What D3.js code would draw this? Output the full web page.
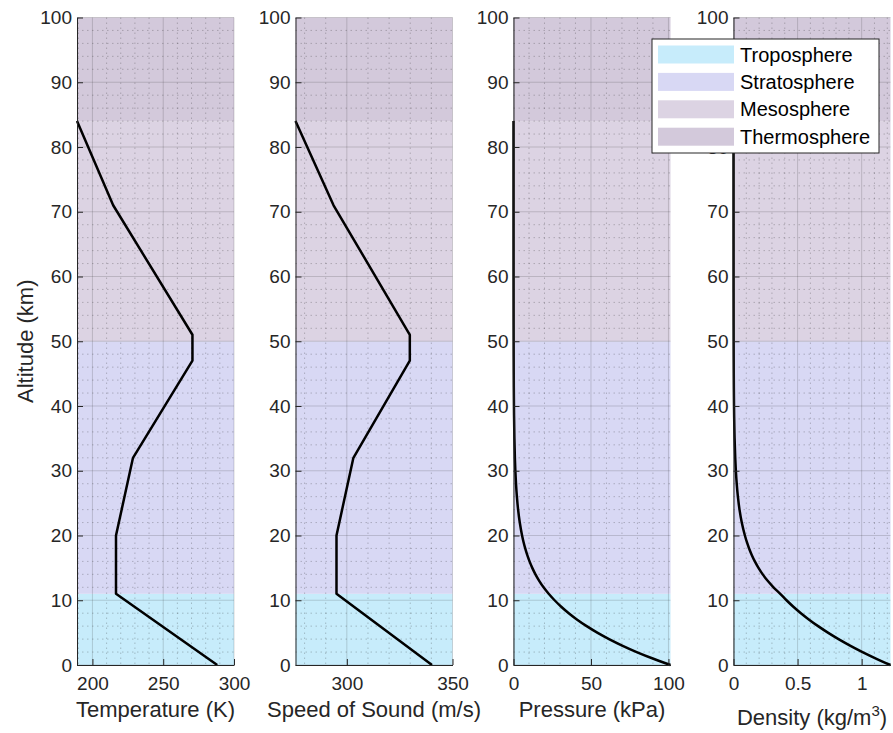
<!DOCTYPE html>
<head>
    <meta charset="utf-8">
    <title>Standard atmosphere profiles</title>
    <style>
        body { margin: 0; background: #fff; }
        svg { display: block; font-family: "Liberation Sans", Arial, sans-serif; }
        .tick text { fill: #262626; font-size: 19px; }
        .tick line, .domain { stroke: #262626; }
        .label { fill: #262626; font-size: 22px; }
        .legend text { fill: #000; font-size: 20px; }
    </style>
</head>
<body>

<svg width="893" height="733"></svg>

<script src="https://cdn.jsdelivr.net/npm/d3@7/dist/d3.min.js"></script>

<script>

    //****************************data************************************//

    //temperature and speed of sound break points (km)
    var kinkAlt = [0, 11, 20, 32, 47, 51, 71, 84];
    var temperature = [288.15, 216.65, 216.65, 228.65, 270.65, 270.65, 214.65, 189.1]; //K
    var soundSpeed = [340.3, 295.1, 295.1, 303.1, 329.8, 329.8, 293.7, 275.7]; //m/s

    //pressure and density (km)
    var curveAlt = [0, 1, 2, 3, 4, 5, 6, 7, 8, 9, 10, 11, 12, 13, 14, 15, 16, 17, 18, 19, 20,
                    22, 24, 26, 28, 30, 32, 35, 40, 45, 50, 55, 60, 65, 70, 75, 80, 84];
    var pressure = [101.325, 89.876, 79.501, 70.121, 61.66, 54.048, 47.217, 41.105, 35.651, 30.8, 26.5,
                    22.7, 19.399, 16.58, 14.17, 12.111, 10.352, 8.85, 7.565, 6.468, 5.529,
                    4.048, 2.972, 2.188, 1.616, 1.197, 0.889, 0.575, 0.287, 0.149, 0.0798, 0.0425,
                    0.022, 0.0109, 0.0052, 0.0024, 0.0011, 0.00056]; //kPa
    var density = [1.225, 1.1117, 1.0066, 0.9093, 0.8194, 0.7364, 0.6601, 0.59, 0.5258, 0.4671, 0.4135,
                   0.3648, 0.3119, 0.2666, 0.2279, 0.1948, 0.1665, 0.1423, 0.1217, 0.104, 0.0889,
                   0.0645, 0.0469, 0.0343, 0.0251, 0.0184, 0.0136, 0.0085, 0.004, 0.002, 0.001, 0.00057,
                   0.00031, 0.00016, 0.000083, 0.00004, 0.000018, 0.00001]; //kg/m3

    //atmosphere layers (km)
    var layerNames = ["Troposphere", "Stratosphere", "Mesosphere", "Thermosphere"];
    var layerBottom = [0, 11, 50, 84];
    var layerTop = [11, 50, 84, 100];
    var layerColors = ["#c7ecfb", "#d8d8f4", "#dcd3e3", "#d3c9db"];

    //tick values
    var yTicks = d3.range(0, 101, 10);
    var tempTicks = [200, 250, 300];
    var soundTicks = [300, 350];
    var pressTicks = [0, 50, 100];
    var densTicks = [0, 0.5, 1];

    //****************************layout************************************//

    var svg = d3.select("svg");
    var plotW = 157,
        plotTop = 17.5,
        plotBottom = 665;

    var y = d3.scaleLinear().domain([0, 100]).range([plotBottom, plotTop]);

    var panels = [
        {left: 77,    xs: temperature, ys: kinkAlt,  domain: [d3.min(temperature), 300], ticks: tempTicks,  minor: 10,  label: "Temperature (K)"},
        {left: 295.5, xs: soundSpeed,  ys: kinkAlt,  domain: [d3.min(soundSpeed), 350],  ticks: soundTicks, minor: 10,  label: "Speed of Sound (m/s)"},
        {left: 513.5, xs: pressure,    ys: curveAlt, domain: [0, d3.max(pressure)],      ticks: pressTicks, minor: 10,  label: "Pressure (kPa)", smooth: true},
        {left: 733.5, xs: density,     ys: curveAlt, domain: [0, d3.max(density)],       ticks: densTicks,  minor: 0.1, label: "Density", smooth: true}
    ];

    panels.forEach((p, i) => {
        var x = d3.scaleLinear().domain(p.domain).range([0, plotW]);
        var g = svg.append("g").attr("transform", "translate(" + p.left + ",0)");

        //layer shading
        g.selectAll("rect.layer")
            .data(layerNames)
            .enter().append("rect")
                .attr("class", "layer")
                .attr("x", 0)
                .attr("width", plotW)
                .attr("y", (d, j) => y(layerTop[j]))
                .attr("height", (d, j) => y(layerBottom[j]) - y(layerTop[j]))
                .attr("fill", (d, j) => layerColors[j]);

        //minor grid (dotted)
        var xMinor = d3.range(Math.ceil(p.domain[0] / p.minor) * p.minor, p.domain[1] + 1e-9, p.minor)
            .filter(v => !p.ticks.some(t => Math.abs(t - v) < 1e-9));
        var yMinor = d3.range(0, 101, 2).filter(v => v % 10 != 0);
        g.selectAll("line.xminor")
            .data(xMinor)
            .enter().append("line")
                .attr("x1", d => x(d)).attr("x2", d => x(d))
                .attr("y1", plotTop).attr("y2", plotBottom)
                .attr("stroke", "rgba(38,38,38,0.25)")
                .attr("stroke-dasharray", "1.5,3.5");
        g.selectAll("line.yminor")
            .data(yMinor)
            .enter().append("line")
                .attr("x1", 0).attr("x2", plotW)
                .attr("y1", d => y(d)).attr("y2", d => y(d))
                .attr("stroke", "rgba(38,38,38,0.25)")
                .attr("stroke-dasharray", "1.5,3.5");

        //major grid
        g.selectAll("line.xmajor")
            .data(p.ticks)
            .enter().append("line")
                .attr("x1", d => x(d)).attr("x2", d => x(d))
                .attr("y1", plotTop).attr("y2", plotBottom)
                .attr("stroke", "rgba(38,38,38,0.18)");
        g.selectAll("line.ymajor")
            .data(yTicks)
            .enter().append("line")
                .attr("x1", 0).attr("x2", plotW)
                .attr("y1", d => y(d)).attr("y2", d => y(d))
                .attr("stroke", "rgba(38,38,38,0.18)");

        //profile curve
        var line = d3.line()
            .x(d => x(p.xs[d]))
            .y(d => y(p.ys[d]))
            .curve(p.smooth ? d3.curveMonotoneY : d3.curveLinear);
        g.append("path")
            .datum(d3.range(p.xs.length))
            .attr("d", line)
            .attr("fill", "none")
            .attr("stroke", "#000")
            .attr("stroke-width", 2.5)
            .attr("stroke-linejoin", "round");

        //axes, ticks pointing inward
        g.append("g")
            .call(d3.axisLeft(y).tickValues(yTicks).tickSize(-6).tickSizeOuter(0).tickPadding(5))
            .call(a => a.selectAll("text").attr("font-family", null).attr("font-size", null));
        g.append("g")
            .attr("transform", "translate(0," + plotBottom + ")")
            .call(d3.axisBottom(x).tickValues(p.ticks).tickSize(-6).tickSizeOuter(0).tickPadding(12)
                .tickFormat(d3.format("~g")))
            .call(a => a.selectAll("text").attr("font-family", null).attr("font-size", null));

        //x label
        var lab = g.append("text")
            .attr("class", "label")
            .attr("x", plotW / 2)
            .attr("y", i == 3 ? 725 : 717)
            .attr("text-anchor", "middle")
            .text(p.label);
        if (i == 3) {
            lab.append("tspan").text(" (kg/m");
            lab.append("tspan").attr("font-size", "15px").attr("dy", -9).text("3");
            lab.append("tspan").attr("dy", 9).text(")");
        }
    });

    //y label
    svg.append("text")
        .attr("class", "label")
        .attr("transform", "translate(33," + (plotTop + plotBottom) / 2 + ") rotate(-90)")
        .attr("text-anchor", "middle")
        .text("Altitude (km)");

    //****************************legend block************************************//

    var legend = svg.append("g")
        .attr("class", "legend")
        .attr("transform", "translate(652,39)");
    legend.append("rect")
        .attr("width", 227)
        .attr("height", 114)
        .attr("fill", "#fff")
        .attr("stroke", "#262626");
    var rows = legend.selectAll("g.row")
        .data(layerNames)
        .enter().append("g")
            .attr("transform", (d, j) => "translate(0," + (15.5 + j * 27.4) + ")");
    rows.append("rect")
        .attr("x", 6).attr("y", -9)
        .attr("width", 76).attr("height", 18)
        .attr("fill", (d, j) => layerColors[j]);
    rows.append("text")
        .attr("x", 88)
        .attr("dy", "0.35em")
        .text(d => d);

</script>

</body>
